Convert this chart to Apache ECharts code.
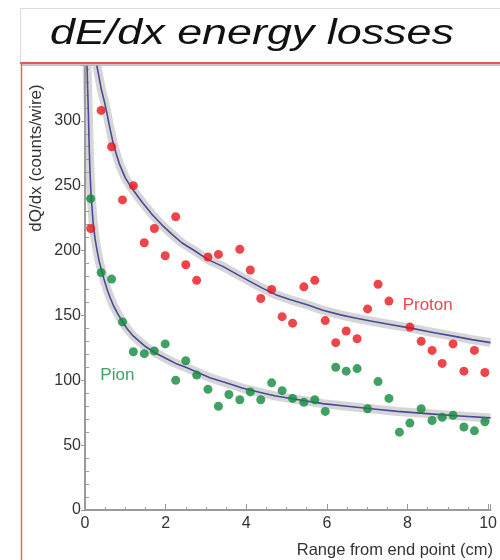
<!DOCTYPE html>
<html><head><meta charset="utf-8">
<script src="https://cdn.jsdelivr.net/npm/echarts@6/dist/echarts.min.js"></script>
<style>html,body{margin:0;padding:0;background:#fff}#c{width:500px;height:560px}</style>
</head><body><div id="c"></div>
<script>
// Measured data (range in cm, dQ/dx in counts/wire)
const protonRange = [0.14,0.40,0.66,0.93,1.20,1.47,1.72,1.99,2.25,2.50,2.77,3.05,3.31,3.84,4.10,4.36,4.63,4.89,5.15,5.43,5.70,5.96,6.22,6.48,6.75,7.01,7.27,7.54,8.06,8.34,8.61,8.86,9.13,9.40,9.66,9.92];
const protonDQ    = [217,308,280,239,250,206,217,196,226,189,177,195,197,201,185,163,170,149,144,172,177,146,129,138,132,155,174,161,141,130,123,113,128,107,123,106];
const pionRange = [0.14,0.40,0.66,0.93,1.20,1.47,1.72,1.99,2.25,2.50,2.77,3.05,3.31,3.57,3.84,4.10,4.36,4.63,4.89,5.15,5.43,5.70,5.96,6.22,6.48,6.75,7.01,7.27,7.54,7.80,8.06,8.34,8.61,8.86,9.13,9.40,9.66,9.92];
const pionDQ    = [240,183,178,145,122,120.5,122.6,128,100,115,104,93,80,89,85,91,85,98,92,86,83,85,76,110,107,109,78,99,86,60,67,78,69,71.5,73,64,61,68];
// Fitted curves
const protonFitRange = [0.29,0.34,0.40,0.48,0.55,0.62,0.69,0.77,0.85,0.93,1.00,1.10,1.21,1.40,1.66,1.90,2.14,2.40,2.71,3.05,3.43,3.75,4.10,4.40,4.73,5.10,5.53,5.90,6.34,6.70,7.15,7.60,8.08,8.60,9.17,9.60,10.06];
const protonFitDQ    = [343,335,325,315,305,294,284,275,267,261,256,251,246,238,228,220,213,206,200,193,187.6,182,176,171,166,162,158,154,150.4,148,145.3,142.8,140.2,137,133.8,131.3,129];
const pionFitRange = [0.05,0.065,0.08,0.10,0.12,0.15,0.20,0.25,0.30,0.35,0.40,0.47,0.55,0.62,0.70,0.80,0.93,1.05,1.20,1.35,1.50,1.75,2.00,2.25,2.50,2.80,3.10,3.50,3.90,4.30,4.70,5.30,5.90,6.50,7.10,7.75,8.40,9.20,10.06];
const pionFitDQ    = [343,325,310,285,264,243,222,209,200,192,186,178,170,164,158,152,145,139.5,134,130,126,121,117,113,110,106,102,98,94,91,88,85,82,80,78,76,74.5,72.7,71];
const xTicks = [0,2,4,6,8,10];
const yTicks = [0,50,100,150,200,250,300];
const labels = [{name:'Proton', x:7.88, y:158, color:'#e8161c'}, {name:'Pion', x:0.38, y:104, color:'#128a3e'}];

const zip = (a,b) => a.map((v,i)=>[v,b[i]]);
const chart = echarts.init(document.getElementById('c'));
const FONT = 'Liberation Sans, Arial, sans-serif';
const halo = {color:'rgba(165,165,165,0.45)', width:9, join:'round', cap:'butt'};
const core = {color:'#4a4a98', width:1.6, join:'round'};
const axisGray = '#9a9a9a';

chart.setOption({
  animation:false,
  grid:{left:85, top:65, right:0, bottom:50, containLabel:false},
  xAxis:{type:'value', min:0, max:10.06, interval:2,
    axisLine:{lineStyle:{color:axisGray, width:2}},
    axisTick:{inside:true, length:6, lineStyle:{color:axisGray, width:1}},
    minorTick:{show:true, splitNumber:4, length:3, lineStyle:{color:axisGray}},
    splitLine:{show:false},
    axisLabel:{color:'#333', fontSize:16, fontFamily:FONT, margin:6,
      formatter:v=> xTicks.includes(v) ? String(v) : ''},
  },
  yAxis:{type:'value', min:0, max:343, interval:50,
    axisLine:{show:true, lineStyle:{color:axisGray, width:2}},
    axisTick:{show:true, inside:false, length:4, lineStyle:{color:axisGray, width:1}},
    minorTick:{show:true, splitNumber:5, length:-4, lineStyle:{color:axisGray}},
    splitLine:{show:false},
    axisLabel:{color:'#333', fontSize:16, fontFamily:FONT, margin:4,
      formatter:v=> yTicks.includes(v) ? String(v) : ''},
  },
  series:[
    {type:'line', data:zip(protonFitRange,protonFitDQ), smooth:false, symbol:'none', lineStyle:halo, z:1},
    {type:'line', data:zip(pionFitRange,pionFitDQ), smooth:false, symbol:'none', lineStyle:halo, z:1},
    {type:'line', data:zip(protonFitRange,protonFitDQ), smooth:false, symbol:'none', lineStyle:core, z:2},
    {type:'line', data:zip(pionFitRange,pionFitDQ), smooth:false, symbol:'none', lineStyle:core, z:2},
    {type:'scatter', data:zip(protonRange,protonDQ), symbolSize:9, itemStyle:{color:'#e8161c'}, z:3},
    {type:'scatter', data:zip(pionRange,pionDQ), symbolSize:9, itemStyle:{color:'#128a3e'}, z:3},
    ...labels.map(l=>({type:'scatter', data:[[l.x,l.y]], symbolSize:0, z:4,
      label:{show:true, position:'right', distance:0, formatter:l.name, color:l.color, fontSize:17, fontFamily:FONT}}))
  ],
  graphic:[
    {type:'rect', shape:{x:20.5, y:8.5, width:520, height:56}, style:{fill:'none', stroke:'#dcdcdc', lineWidth:1}, z:10},
    {type:'text', x:50, y:34, scaleX:1.3, scaleY:1, style:{text:'dE/dx energy losses', font:'italic 34.5px '+FONT, fill:'#111', textAlign:'left', textVerticalAlign:'middle'}, z:10},
    {type:'line', shape:{x1:20, y1:63, x2:500, y2:63}, style:{stroke:'#e05a5a', lineWidth:2}, z:11},
    {type:'line', shape:{x1:22, y1:65.2, x2:500, y2:65.2}, style:{stroke:'#b0b0b0', lineWidth:1.2}, z:11},
    {type:'line', shape:{x1:21.5, y1:62, x2:21.5, y2:560}, style:{stroke:'#e06a6a', lineWidth:1.5}, z:11},
    {type:'text', x:36, y:158, rotation:Math.PI/2, style:{text:'dQ/dx (counts/wire)', font:'17px '+FONT, fill:'#333', textAlign:'center', textVerticalAlign:'middle'}, z:10},
    {type:'text', x:493, y:550, style:{text:'Range from end point (cm)', font:'16.5px '+FONT, fill:'#333', textAlign:'right', textVerticalAlign:'middle'}, z:10}
  ]
});
</script></body></html>
